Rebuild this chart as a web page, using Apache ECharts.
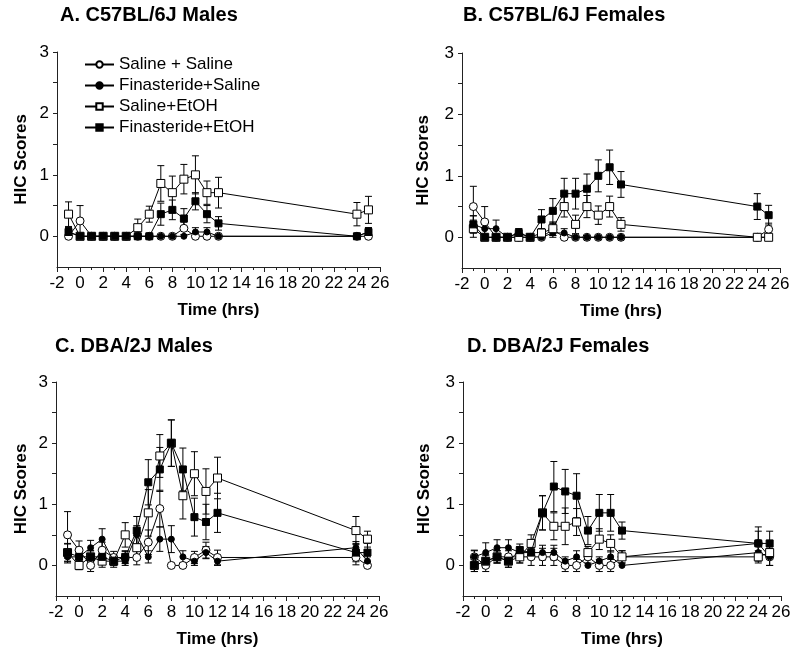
<!DOCTYPE html>
<html>
<head>
<meta charset="utf-8">
<script src="https://cdn.jsdelivr.net/npm/echarts@6/dist/echarts.min.js"></script>
<style>html,body{margin:0;padding:0;background:#fff;}#c{width:800px;height:655px;}</style>
</head>
<body>
<div id="c"></div>
<script>
// ---- data ----
const hours = [-1,0,1,2,3,4,5,6,7,8,9,10,11,12,24,25];
const seriesNames = ['Saline + Saline','Finasteride+Saline','Saline+EtOH','Finasteride+EtOH'];
const panelTitles = ['A. C57BL/6J Males','B. C57BL/6J Females','C. DBA/2J Males','D. DBA/2J Females'];
const xTickLabels = [-2,0,2,4,6,8,10,12,14,16,18,20,22,24,26];
const yTickLabels = [0,1,2,3];
const yTicks = [0,0.5,1,1.5,2,2.5,3];

// Panel A
const aSalSal      = [0,0.25,0,0,0,0,0,0,0,0,0.13,0,0,0,0,0];
const aSalSalErr   = [0,0.25,0,0,0,0,0,0,0,0,0.1,0,0,0,0,0];
const aFinSal      = [0.07,0,0,0,0,0,0,0,0,0,0,0.07,0.07,0,0,0.07];
const aFinSalErr   = [0.07,0,0,0,0,0,0,0,0,0,0,0.07,0.07,0,0,0.07];
const aSalEtoh     = [0.36,0,0,0,0,0,0.14,0.36,0.86,0.71,0.93,1.0,0.71,0.71,0.36,0.43];
const aSalEtohErr  = [0.2,0,0,0,0,0,0.14,0.13,0.29,0.27,0.24,0.31,0.19,0.25,0.19,0.22];
const aFinEtoh     = [0.07,0,0,0,0,0,0,0,0.36,0.43,0.29,0.57,0.36,0.21,0,0.07];
const aFinEtohErr  = [0.07,0,0,0,0,0,0,0,0.18,0.16,0.16,0.14,0.14,0.11,0,0.07];

// Panel B
const bSalSal      = [0.5,0.25,0,0,0,0,0,0.13,0,0,0,0,0,0,0,0.13];
const bSalSalErr   = [0.33,0.25,0,0,0,0,0,0.1,0,0,0,0,0,0,0,0.1];
const bFinSal      = [0.21,0.14,0.14,0,0.07,0,0,0.07,0.07,0,0,0,0,0,0,0];
const bFinSalErr   = [0.14,0.14,0.14,0,0.07,0,0,0.07,0.07,0,0,0,0,0,0,0];
const bSalEtoh     = [0.14,0,0,0,0,0,0.07,0.14,0.5,0.21,0.5,0.36,0.5,0.21,0,0];
const bSalEtohErr  = [0.14,0,0,0,0,0,0.07,0.11,0.17,0.15,0.18,0.15,0.17,0.11,0,0];
const bFinEtoh     = [0.21,0,0,0,0.07,0,0.29,0.43,0.71,0.71,0.79,1.0,1.14,0.86,0.5,0.36];
const bFinEtohErr  = [0.14,0,0,0,0.07,0,0.16,0.2,0.25,0.25,0.24,0.26,0.28,0.21,0.21,0.16];

// Panel C
const cSalSal      = [0.5,0.25,0,0.25,0.13,0.13,0.13,0.38,0.93,0,0,0.13,0.25,0.13,0.13,0];
const cSalSalErr   = [0.38,0.15,0.1,0.13,0.1,0.1,0.12,0.2,0.3,0,0,0.1,0.13,0.12,0.12,0];
const cFinSal      = [0.14,0.14,0.29,0.43,0.07,0.07,0.5,0.14,0.43,0.43,0.14,0.07,0.21,0.07,0.29,0.07];
const cFinSalErr   = [0.1,0.1,0.12,0.17,0.07,0.07,0.15,0.1,0.2,0.22,0.1,0.07,0.1,0.07,0.1,0.07];
const cSalEtoh     = [0.21,0,0.14,0.07,0.07,0.5,0.29,0.86,1.79,2.0,1.14,1.5,1.21,1.43,0.57,0.43];
const cSalEtohErr  = [0.15,0.07,0.1,0.1,0.1,0.2,0.2,0.38,0.35,0.38,0.38,0.36,0.37,0.34,0.23,0.13];
const cFinEtoh     = [0.21,0.14,0.14,0.14,0.07,0.14,0.57,1.36,1.57,2.0,1.57,0.79,0.71,0.86,0.21,0.21];
const cFinEtohErr  = [0.14,0.1,0.1,0.1,0.07,0.1,0.23,0.37,0.36,0.38,0.35,0.31,0.29,0.32,0.15,0.15];

// Panel D
const dSalSal      = [0.14,0,0.14,0.14,0.14,0.14,0.14,0.14,0,0,0.14,0,0,0.14,0.36,0.14];
const dSalSalErr   = [0.11,0.1,0.1,0.1,0.1,0.14,0.14,0.14,0.1,0.1,0.1,0.1,0.1,0.1,0.27,0.14];
const dFinSal      = [0.14,0.21,0.29,0.29,0.21,0.21,0.21,0.21,0.07,0.14,0,0.07,0.14,0,0.21,0.14];
const dFinSalErr   = [0.1,0.16,0.13,0.13,0.1,0.1,0.12,0.12,0.07,0.1,0,0.07,0.1,0,0.14,0.14];
const dSalEtoh     = [0,0.07,0.14,0.07,0.14,0.36,0.86,0.64,0.64,0.71,0.21,0.43,0.36,0.14,0.14,0.21];
const dSalEtohErr  = [0.1,0.1,0.1,0.1,0.1,0.14,0.28,0.22,0.3,0.22,0.1,0.17,0.14,0.1,0.1,0.1];
const dFinEtoh     = [0,0.07,0.14,0.07,0.25,0.21,0.86,1.29,1.21,1.14,0.57,0.86,0.86,0.57,0.36,0.36];
const dFinEtohErr  = [0.1,0.1,0.1,0.1,0.1,0.1,0.28,0.41,0.36,0.36,0.23,0.3,0.3,0.14,0.2,0.2];

// ---- build chart ----
const FONT = '"Liberation Sans", Arial, sans-serif';
const means = [
  [aSalSal,aFinSal,aSalEtoh,aFinEtoh],
  [bSalSal,bFinSal,bSalEtoh,bFinEtoh],
  [cSalSal,cFinSal,cSalEtoh,cFinEtoh],
  [dSalSal,dFinSal,dSalEtoh,dFinEtoh]
];
const errs = [
  [aSalSalErr,aFinSalErr,aSalEtohErr,aFinEtohErr],
  [bSalSalErr,bFinSalErr,bSalEtohErr,bFinEtohErr],
  [cSalSalErr,cFinSalErr,cSalEtohErr,cFinEtohErr],
  [dSalSalErr,dFinSalErr,dSalEtohErr,dFinEtohErr]
];
const layout = [
  {grid:{left:57,top:52,width:323,height:215}, title:{left:60,top:5}, nameGapY:27},
  {grid:{left:462,top:53,width:318,height:215}, title:{left:463,top:5}, nameGapY:30},
  {grid:{left:56,top:382,width:323,height:214}, title:{left:55,top:336}, nameGapY:26},
  {grid:{left:463,top:382,width:318,height:214}, title:{left:467,top:336}, nameGapY:30}
];
const markerStyles = [
  {symbol:'circle', size:8, fill:'#fff'},
  {symbol:'circle', size:6, fill:'#000'},
  {symbol:'rect', size:8, fill:'#fff'},
  {symbol:'rect', size:7, fill:'#000'}
];
const AX = '#222';

function renderErr(params, api){
  const x = api.value(0), m = api.value(1), e = api.value(2);
  if (!e) return {type:'group', children:[]};
  const t = api.coord([x, m + e]), b = api.coord([x, m - e]);
  const hw = 3.5, st = {stroke:'#000', lineWidth:1};
  return {type:'group', children:[
    {type:'line', shape:{x1:t[0],y1:t[1],x2:b[0],y2:b[1]}, style:st},
    {type:'line', shape:{x1:t[0]-hw,y1:t[1],x2:t[0]+hw,y2:t[1]}, style:st},
    {type:'line', shape:{x1:b[0]-hw,y1:b[1],x2:b[0]+hw,y2:b[1]}, style:st}
  ]};
}

const option = {
  animation:false,
  backgroundColor:'#fff',
  textStyle:{fontFamily:FONT},
  title:[], grid:[], xAxis:[], yAxis:[], series:[],
  legend:{
    left:79, top:51, orient:'vertical', itemWidth:29, itemHeight:8, itemGap:4,
    selectedMode:false,
    textStyle:{fontSize:17, color:'#000', fontFamily:FONT, lineHeight:17},
    data:seriesNames
  }
};

layout.forEach((L, p) => {
  option.title.push({text:panelTitles[p], left:L.title.left, top:L.title.top, padding:0,
    textStyle:{fontSize:20, fontWeight:'bold', color:'#000', fontFamily:FONT}});
  option.grid.push(Object.assign({containLabel:false}, L.grid));
  option.xAxis.push({
    type:'value', gridIndex:p, min:-2, max:26, interval:2, position:'bottom',
    name:'Time (hrs)', nameLocation:'middle', nameGap:35,
    nameTextStyle:{fontSize:17, fontWeight:'bold', color:'#000', fontFamily:FONT},
    axisLine:{show:true, onZero:false, lineStyle:{color:AX, width:1}},
    axisTick:{show:true, length:5, lineStyle:{color:AX}},
    minorTick:{show:true, splitNumber:2, length:3, lineStyle:{color:AX}},
    axisLabel:{fontSize:17, color:'#000', margin:8, fontFamily:FONT,
      customValues:xTickLabels},
    splitLine:{show:false}
  });
  option.yAxis.push({
    type:'value', gridIndex:p, min:-0.5, max:3, position:'left', offset:0,
    name:'HIC Scores', nameLocation:'middle', nameGap:L.nameGapY, nameRotate:90,
    nameTextStyle:{fontSize:17, fontWeight:'bold', color:'#000', fontFamily:FONT},
    axisLine:{show:true, onZero:false, lineStyle:{color:AX, width:1}},
    axisTick:{show:true, length:4, customValues:yTicks, lineStyle:{color:AX}},
    axisLabel:{fontSize:17, color:'#000', margin:8, fontFamily:FONT, customValues:yTickLabels},
    splitLine:{show:false}
  });
  const xi = p, yi = p;
  means[p].forEach((vals, s) => {
    option.series.push({
      type:'custom', xAxisIndex:xi, yAxisIndex:yi, z:1, silent:true,
      renderItem:renderErr,
      data:hours.map((h,i)=>[h, vals[i], errs[p][s][i]])
    });
  });
  means[p].forEach((vals, s) => {
    const ms = markerStyles[s];
    option.series.push({
      type:'line', name:seriesNames[s], xAxisIndex:xi, yAxisIndex:yi, z:2+s,
      symbol:ms.symbol, symbolSize:ms.size, showAllSymbol:true,
      itemStyle:{color:ms.fill, borderColor:'#000', borderWidth:1},
      lineStyle:{color:'#000', width:1},
      emphasis:{disabled:true},
      data:hours.map((h,i)=>[h, vals[i]])
    });
  });
});

const chart = echarts.init(document.getElementById('c'), null, {renderer:'canvas'});
chart.setOption(option);
</script>
</body>
</html>
